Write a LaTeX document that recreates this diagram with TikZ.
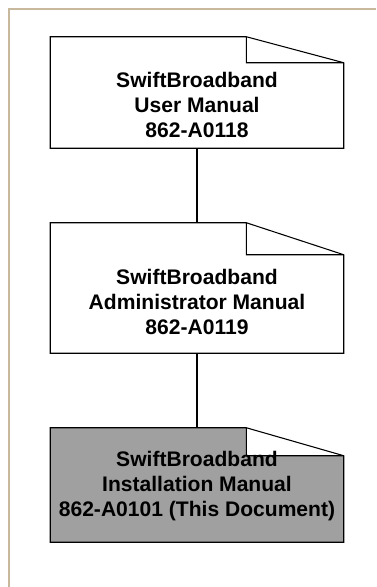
\documentclass[tikz,border=0pt]{standalone}
\usepackage{fontspec}
\setmainfont{Liberation Sans}
\definecolor{frametan}{RGB}{200,184,158}
\definecolor{thisdoc}{RGB}{160,160,160}

\begin{document}
\begin{tikzpicture}[x=0.75pt,y=-0.75pt,
    manual/.style ={rectangle, inner sep=0pt, minimum width=219.75pt},
    title/.style ={align=center, font=\bfseries\fontsize{15.8}{18.75}\selectfont}]
   \useasboundingbox[fill=white] (0,0) rectangle (376,587);
   \draw[frametan,line width=1.5pt] (9,587) -- (9,9) -- (376,9);

   \node[manual,minimum height=83.25pt] (user)    at (197,92.5) {};
   \node[manual,minimum height=97.5pt]  (admin)   at (197,288)  {};
   \node[manual,minimum height=85.5pt]  (install) at (197,485)  {};

   \foreach \n/\d/\c in {user/26/white,admin/32/white,install/28/thisdoc}
     \draw[fill=\c,line width=0.8pt] (\n.north west) -- ([xshift=-73.1pt]\n.north east)
       -- ([yshift=-\d*0.75pt]\n.north east) -- (\n.south east) -- (\n.south west) -- cycle
       ([xshift=-73.1pt]\n.north east) |- ([yshift=-\d*0.75pt]\n.north east);

   \node[title] (user text)    at (197,105) {SwiftBroadband\\User Manual\\862-A0118};
   \node[title] (admin text)   at (197,302) {SwiftBroadband\\Administrator Manual\\862-A0119};
   \node[title] (install text) at (197,486) {SwiftBroadband\\Installation Manual\\862-A0101 (This Document)};

   \draw[line width=1.5pt] (user) to (admin);
   \draw[line width=1.5pt] (admin) to (install);
 \end{tikzpicture}
\end{document}
